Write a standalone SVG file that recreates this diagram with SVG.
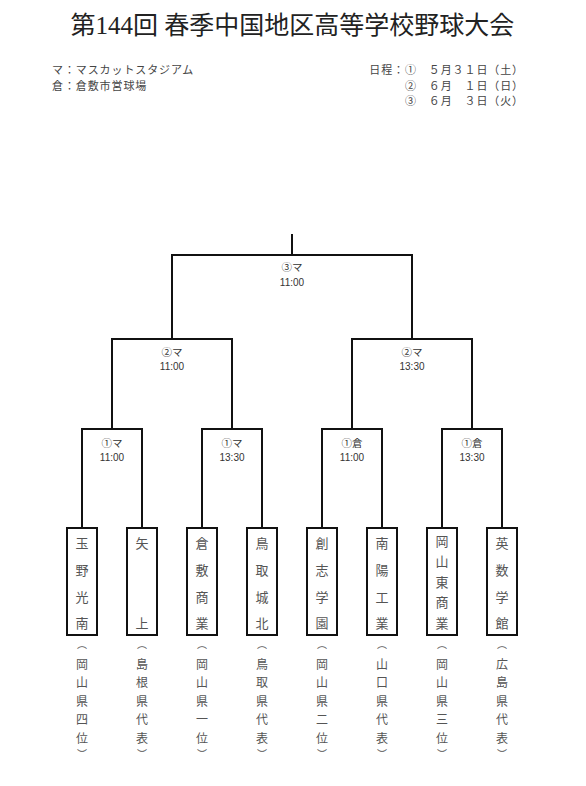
<svg xmlns="http://www.w3.org/2000/svg" width="586" height="786" viewBox="0 0 586 786">
<style>
.bg{fill:#ffffff}
.ln{fill:none;stroke:#111;stroke-width:2;stroke-linecap:square}
.box{fill:#ffffff;stroke:#111;stroke-width:2}
.title{font-family:"Liberation Serif","Noto Sans CJK JP",serif;font-size:25px;fill:#222;text-anchor:middle}
.hd{font-family:"Noto Sans CJK JP",sans-serif;font-size:11px;fill:#444;letter-spacing:0.9px}
.hdr{font-family:"Noto Sans CJK JP",sans-serif;font-size:11px;fill:#444;letter-spacing:0.9px;text-anchor:end}
.ml{font-family:"Noto Sans CJK JP",sans-serif;font-size:10.5px;fill:#333;text-anchor:middle}
.mt{font-family:"Liberation Sans","Noto Sans CJK JP",sans-serif;font-size:10px;fill:#333;text-anchor:middle}
.tn{font-family:"Noto Sans CJK JP",sans-serif;font-size:13px;fill:#555;text-anchor:middle}
.pf{font-family:"Noto Sans CJK JP",sans-serif;font-size:12px;fill:#555;text-anchor:middle}
.pr{font-size:10px}
</style>
<rect class="bg" x="0" y="0" width="586" height="786"/>
<g id="header">
<text class="title" x="292.5" y="34">第144回 春季中国地区高等学校野球大会</text>
<text class="hd" x="52" y="74">マ：マスカットスタジアム</text>
<text class="hd" x="52" y="90">倉：倉敷市営球場</text>
<text class="hdr" x="524" y="74">日程：①　５月３１日（土）</text>
<text class="hdr" x="524" y="90">②　６月　１日（日）</text>
<text class="hdr" x="524" y="105">③　６月　３日（火）</text>
</g>
<g id="connectors">
<path class="ln" d="M292,235 V255 M172,339 V255 H412 V339"/>
<path class="ln" d="M112,429 V339 H232 V429 M352,429 V339 H472 V429"/>
<path class="ln" d="M82,528 V429 H142 V528 M202,528 V429 H262 V528 M322,528 V429 H382 V528 M442,528 V429 H502 V528"/>
</g>
<g id="final"><text class="ml" x="292" y="271">③マ</text><text class="mt" x="292" y="286">11:00</text></g>
<g id="semi1"><text class="ml" x="172" y="356">②マ</text><text class="mt" x="172" y="370">11:00</text></g>
<g id="semi2"><text class="ml" x="412" y="356">②マ</text><text class="mt" x="412" y="370">13:30</text></g>
<g id="r1a"><text class="ml" x="112" y="447">①マ</text><text class="mt" x="112" y="461">11:00</text></g>
<g id="r1b"><text class="ml" x="232" y="447">①マ</text><text class="mt" x="232" y="461">13:30</text></g>
<g id="r1c"><text class="ml" x="352" y="447">①倉</text><text class="mt" x="352" y="461">11:00</text></g>
<g id="r1d"><text class="ml" x="472" y="447">①倉</text><text class="mt" x="472" y="461">13:30</text></g>
<g id="team1"><rect class="box" x="67" y="528" width="30" height="107"/>
<text class="tn"><tspan x="82" y="548">玉</tspan><tspan x="82" y="575">野</tspan><tspan x="82" y="602">光</tspan><tspan x="82" y="628">南</tspan></text>
<text class="pf"><tspan class="pr" x="82" y="648">︵</tspan><tspan x="82" y="669">岡</tspan><tspan x="82" y="687">山</tspan><tspan x="82" y="706">県</tspan><tspan x="82" y="724">四</tspan><tspan x="82" y="743">位</tspan><tspan class="pr" x="82" y="758">︶</tspan></text></g>
<g id="team2"><rect class="box" x="127" y="528" width="30" height="107"/>
<text class="tn"><tspan x="142" y="548">矢</tspan><tspan x="142" y="628">上</tspan></text>
<text class="pf"><tspan class="pr" x="142" y="648">︵</tspan><tspan x="142" y="669">島</tspan><tspan x="142" y="687">根</tspan><tspan x="142" y="706">県</tspan><tspan x="142" y="724">代</tspan><tspan x="142" y="743">表</tspan><tspan class="pr" x="142" y="758">︶</tspan></text></g>
<g id="team3"><rect class="box" x="187" y="528" width="30" height="107"/>
<text class="tn"><tspan x="202" y="548">倉</tspan><tspan x="202" y="575">敷</tspan><tspan x="202" y="602">商</tspan><tspan x="202" y="628">業</tspan></text>
<text class="pf"><tspan class="pr" x="202" y="648">︵</tspan><tspan x="202" y="669">岡</tspan><tspan x="202" y="687">山</tspan><tspan x="202" y="706">県</tspan><tspan x="202" y="724">一</tspan><tspan x="202" y="743">位</tspan><tspan class="pr" x="202" y="758">︶</tspan></text></g>
<g id="team4"><rect class="box" x="247" y="528" width="30" height="107"/>
<text class="tn"><tspan x="262" y="548">鳥</tspan><tspan x="262" y="575">取</tspan><tspan x="262" y="602">城</tspan><tspan x="262" y="628">北</tspan></text>
<text class="pf"><tspan class="pr" x="262" y="648">︵</tspan><tspan x="262" y="669">鳥</tspan><tspan x="262" y="687">取</tspan><tspan x="262" y="706">県</tspan><tspan x="262" y="724">代</tspan><tspan x="262" y="743">表</tspan><tspan class="pr" x="262" y="758">︶</tspan></text></g>
<g id="team5"><rect class="box" x="307" y="528" width="30" height="107"/>
<text class="tn"><tspan x="322" y="548">創</tspan><tspan x="322" y="575">志</tspan><tspan x="322" y="602">学</tspan><tspan x="322" y="628">園</tspan></text>
<text class="pf"><tspan class="pr" x="322" y="648">︵</tspan><tspan x="322" y="669">岡</tspan><tspan x="322" y="687">山</tspan><tspan x="322" y="706">県</tspan><tspan x="322" y="724">二</tspan><tspan x="322" y="743">位</tspan><tspan class="pr" x="322" y="758">︶</tspan></text></g>
<g id="team6"><rect class="box" x="367" y="528" width="30" height="107"/>
<text class="tn"><tspan x="382" y="548">南</tspan><tspan x="382" y="575">陽</tspan><tspan x="382" y="602">工</tspan><tspan x="382" y="628">業</tspan></text>
<text class="pf"><tspan class="pr" x="382" y="648">︵</tspan><tspan x="382" y="669">山</tspan><tspan x="382" y="687">口</tspan><tspan x="382" y="706">県</tspan><tspan x="382" y="724">代</tspan><tspan x="382" y="743">表</tspan><tspan class="pr" x="382" y="758">︶</tspan></text></g>
<g id="team7"><rect class="box" x="427" y="528" width="30" height="107"/>
<text class="tn"><tspan x="442" y="546">岡</tspan><tspan x="442" y="566">山</tspan><tspan x="442" y="587">東</tspan><tspan x="442" y="607">商</tspan><tspan x="442" y="628">業</tspan></text>
<text class="pf"><tspan class="pr" x="442" y="648">︵</tspan><tspan x="442" y="669">岡</tspan><tspan x="442" y="687">山</tspan><tspan x="442" y="706">県</tspan><tspan x="442" y="724">三</tspan><tspan x="442" y="743">位</tspan><tspan class="pr" x="442" y="758">︶</tspan></text></g>
<g id="team8"><rect class="box" x="487" y="528" width="30" height="107"/>
<text class="tn"><tspan x="502" y="548">英</tspan><tspan x="502" y="575">数</tspan><tspan x="502" y="602">学</tspan><tspan x="502" y="628">館</tspan></text>
<text class="pf"><tspan class="pr" x="502" y="648">︵</tspan><tspan x="502" y="669">広</tspan><tspan x="502" y="687">島</tspan><tspan x="502" y="706">県</tspan><tspan x="502" y="724">代</tspan><tspan x="502" y="743">表</tspan><tspan class="pr" x="502" y="758">︶</tspan></text></g>
</svg>
